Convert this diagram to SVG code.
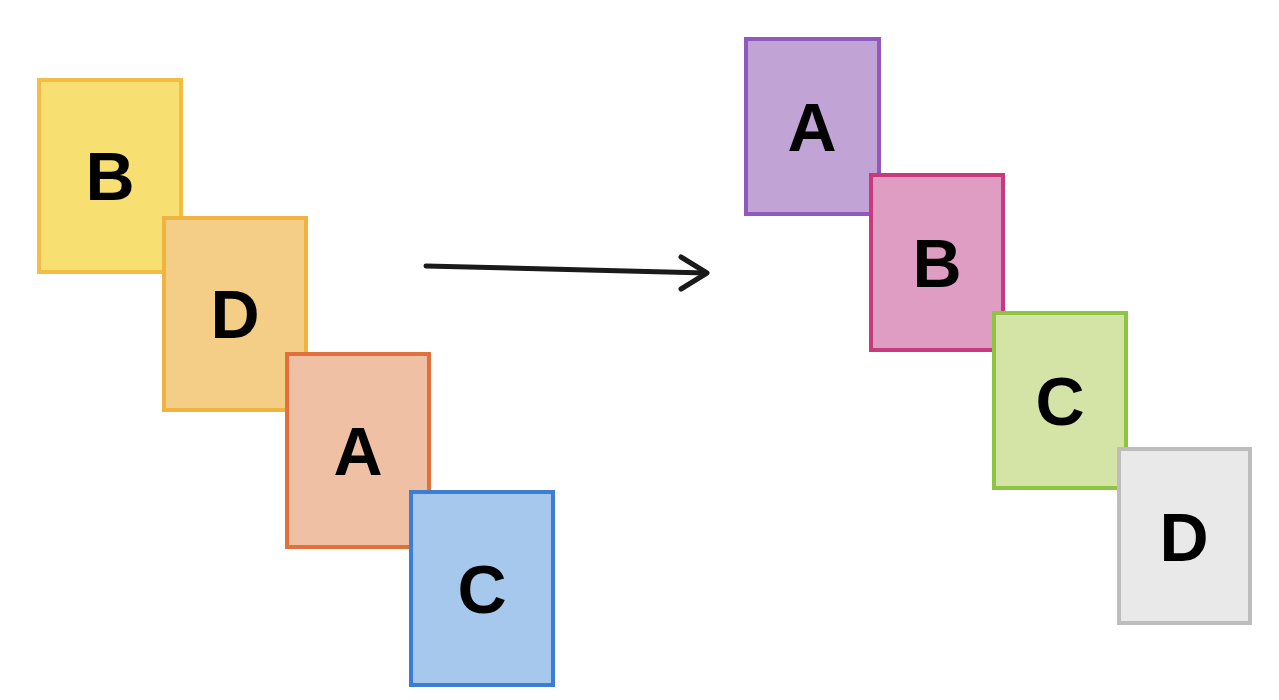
<svg xmlns="http://www.w3.org/2000/svg" width="1279" height="700" viewBox="0 0 1279 700">
<style>
.box{stroke-width:4}
.lbl{font-family:"Liberation Sans",Arial,sans-serif;font-weight:bold;font-size:68px;fill:#000;text-anchor:middle}
.conn{fill:none;stroke:#1a1a1a;stroke-width:5;stroke-linecap:round;stroke-linejoin:round}
</style>
<rect width="1279" height="700" fill="#fff"/>
<g id="left-B"><rect class="box" x="39" y="80" width="142" height="192" fill="#f7df72" stroke="#f3bd43"/><text class="lbl" x="110" y="200">B</text></g>
<g id="left-D"><rect class="box" x="164" y="218" width="142" height="192" fill="#f4cd87" stroke="#efb440"/><text class="lbl" x="235" y="338">D</text></g>
<g id="left-A"><rect class="box" x="287" y="354" width="142" height="193" fill="#efc0a3" stroke="#e2703a"/><text class="lbl" x="358" y="475">A</text></g>
<g id="left-C"><rect class="box" x="411" y="492" width="142" height="193" fill="#a5c8ec" stroke="#3a7fd3"/><text class="lbl" x="482" y="613">C</text></g>
<g id="connectors"><path class="conn" d="M426 266 L706 273"/><path class="conn" d="M681 257 L707 273 L681 289"/></g>
<g id="right-A"><rect class="box" x="746" y="39" width="133" height="175" fill="#c1a3d6" stroke="#9159be"/><text class="lbl" x="812" y="151">A</text></g>
<g id="right-B"><rect class="box" x="871" y="175" width="132" height="175" fill="#df9dc3" stroke="#c73b7e"/><text class="lbl" x="937" y="287">B</text></g>
<g id="right-C"><rect class="box" x="994" y="313" width="132" height="175" fill="#d3e4a6" stroke="#8dc442"/><text class="lbl" x="1060" y="425">C</text></g>
<g id="right-D"><rect class="box" x="1119" y="449" width="131" height="174" fill="#e9e9e9" stroke="#bdbdbd"/><text class="lbl" x="1184" y="561">D</text></g>
</svg>
